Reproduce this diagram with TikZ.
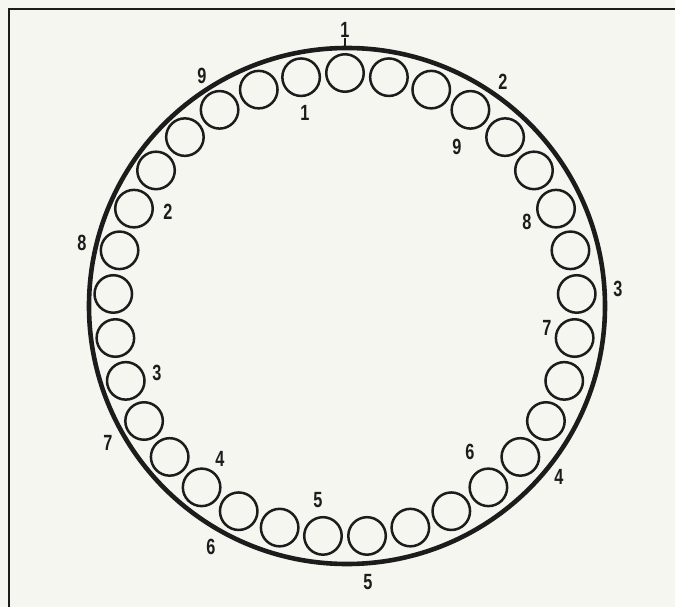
\documentclass[tikz,border=0pt]{standalone}
\usepackage{fontspec}
\newfontfamily\labfont[FakeStretch=0.74]{Liberation Sans Bold}
\definecolor{paper}{RGB}{246,246,240}
\definecolor{ink}{RGB}{28,28,28}
\begin{document}
\begin{tikzpicture}[x=1pt,y=-1pt,
  ball/.style={circle,draw=ink,line width=2.5pt,minimum size=37.5pt,inner sep=0pt},
  lab/.style={inner sep=0pt,text=ink,font=\labfont\fontsize{22}{22}\selectfont},
  ring/.style={draw=ink,line width=4.6pt}]
\fill[paper] (0,0) rectangle (675,607);
\useasboundingbox (0,0) rectangle (675,607);
% frame (left and top edges)
\draw[draw=ink,line width=1.6pt] (9,607) -- (9,9) -- (675,9);
% outer ring
\draw[ring] (347,306) circle (258);
% balls
\foreach \i in {0,...,32}{
  \pgfmathsetmacro{\a}{90-\i*360/33}
  \node[ball] (b\i) at ({345+232*cos(\a)},{305-232*sin(\a)}) {};
}
% outer labels
\node[lab] (o1) at (345,30) {1};
\coordinate (o1c) at (345,47);
\draw[draw=ink,line width=2.4pt] (o1.south) -- (o1c);
\node[lab] (o2) at (503,82) {2};
\node[lab] (o3) at (618,289) {3};
\node[lab] (o4) at (559,477) {4};
\node[lab] (o5) at (368,582) {5};
\node[lab] (o6) at (211,547) {6};
\node[lab] (o7) at (108,443) {7};
\node[lab] (o8) at (82,243) {8};
\node[lab] (o9) at (202,76) {9};
% inner labels
\node[lab] (i1) at (305,113) {1};
\node[lab] (i2) at (168,212) {2};
\node[lab] (i3) at (157,373) {3};
\node[lab] (i4) at (220,459) {4};
\node[lab] (i5) at (318,500) {5};
\node[lab] (i6) at (470,452) {6};
\node[lab] (i7) at (547,328) {7};
\node[lab] (i8) at (527,222) {8};
\node[lab] (i9) at (457,147) {9};
\end{tikzpicture}
\end{document}
